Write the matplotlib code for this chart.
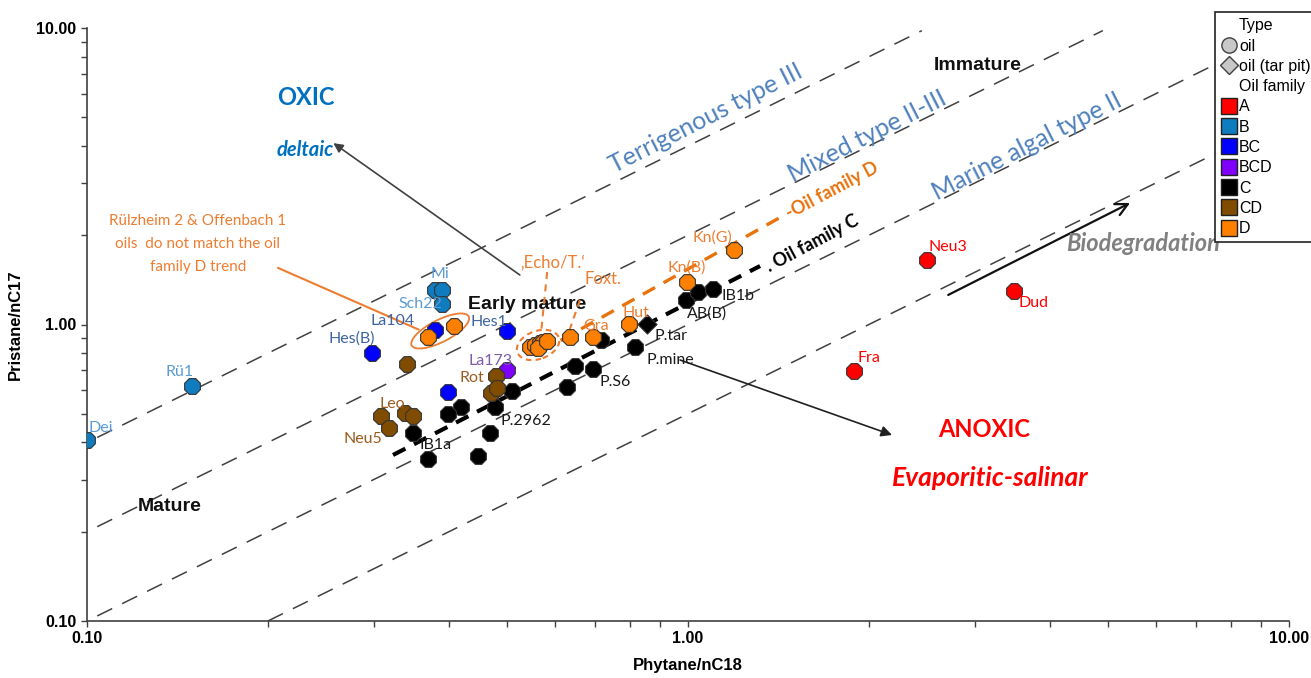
import matplotlib
matplotlib.use("Agg")
import matplotlib.pyplot as plt
import matplotlib.transforms as mtransforms
from matplotlib.patches import Ellipse
from matplotlib.lines import Line2D
from matplotlib.ticker import FixedLocator, FuncFormatter, LogLocator, NullFormatter

plt.rcParams['lines.scale_dashes'] = False

# ---- Phytane/nC18 (x) and Pristane/nC17 (y) by oil family ----
families = ["A", "B", "BC", "BCD", "C", "CD", "D"]
family_colors = ["#FF0000", "#0F7CC0", "#0000FF", "#8000FF", "#000000", "#7F4C00", "#FF8000"]

ph_A = [2.50, 3.49, 1.89]
pr_A = [1.65, 1.30, 0.697]
ph_B = [0.100, 0.1495, 0.379, 0.390, 0.390]
pr_B = [0.408, 0.620, 1.307, 1.307, 1.173]
ph_BC = [0.298, 0.379, 0.500, 0.399]
pr_BC = [0.801, 0.958, 0.951, 0.592]
ph_BCD = [0.500]
pr_BCD = [0.702]
ph_C = [0.717, 0.816, 0.992, 1.039, 1.101, 0.649, 0.695, 0.629, 0.509, 0.477,
        0.419, 0.399, 0.349, 0.468, 0.447, 0.369]
pr_C = [0.887, 0.840, 1.209, 1.287, 1.317, 0.724, 0.708, 0.615, 0.597, 0.527,
        0.527, 0.499, 0.431, 0.431, 0.360, 0.352]
ph_CD = [0.341, 0.479, 0.470, 0.481, 0.308, 0.318, 0.338, 0.349]
pr_CD = [0.736, 0.670, 0.587, 0.611, 0.491, 0.448, 0.503, 0.491]
ph_D = [0.369, 0.408, 0.546, 0.557, 0.567, 0.574, 0.563, 0.583, 0.636, 0.695,
        0.798, 0.996, 1.193]
pr_D = [0.908, 0.988, 0.840, 0.853, 0.866, 0.873, 0.833, 0.880, 0.908, 0.908,
        1.004, 1.391, 1.784]

# tar pit oil (family C)
ph_tar_C = [0.855]
pr_tar_C = [1.004]

oil_ph = [ph_A, ph_B, ph_BC, ph_BCD, ph_C, ph_CD, ph_D]
oil_pr = [pr_A, pr_B, pr_BC, pr_BCD, pr_C, pr_CD, pr_D]

# sample names: (text, family, index in family, dx px, dy px, colour)
sample_labels = [
    ("Dei", "B", 0, 14, 12, "#5B9BD5"),
    ("Rü1", "B", 1, -12, 14, "#5B9BD5"),
    ("Mi", "B", 2, 5, 16, "#5B9BD5"),
    ("Sch22", "B", 4, -22, 0, "#5B9BD5"),
    ("Hes(B)", "BC", 0, -20, 15, "#3D64A0"),
    ("La104", "BC", 1, -42, 9, "#3D64A0"),
    ("Hes1", "BC", 2, -18, 9, "#3D64A0"),
    ("La173", "BCD", 0, -17, 9, "#7B5EA7"),
    ("Rot", "CD", 1, -24, -2, "#9A5B1E"),
    ("Leo", "CD", 4, 12, 12, "#9A5B1E"),
    ("Neu5", "CD", 5, -26, -11, "#9A5B1E"),
    ("IB1a", "C", 12, 22, -12, "#1A1A1A"),
    ("P.2962", "C", 9, 31, -14, "#1A1A1A"),
    ("P.S6", "C", 6, 22, -13, "#1A1A1A"),
    ("P.mine", "C", 1, 35, -13, "#1A1A1A"),
    ("P.tar", "tar", 0, 24, -12, "#1A1A1A"),
    ("AB(B)", "C", 2, 21, -13, "#1A1A1A"),
    ("IB1b", "C", 4, 25, -7, "#1A1A1A"),
    ("Gra", "D", 9, 3, 11, "#ED7D31"),
    ("Hut", "D", 10, 7, 11, "#ED7D31"),
    ("Kn(B)", "D", 11, 0, 14, "#ED7D31"),
    ("Kn(G)", "D", 12, -22, 12, "#ED7D31"),
    ("Neu3", "A", 0, 21, 13, "#FF0000"),
    ("Dud", "A", 1, 19, -12, "#FF0000"),
    ("Fra", "A", 2, 15, 13, "#FF0000"),
]

# Pr/nC17 : Ph/nC18 ratio reference lines
ratio_lines = [4.0, 2.0, 1.0, 0.5]

tick_values = [0.1, 1.0, 10.0]

SANS = ["Lato", "DejaVu Sans"]
ARIAL = ["Liberation Sans", "DejaVu Sans"]
NARROW = ["Liberation Sans Narrow", "Liberation Sans", "DejaVu Sans"]

fig = plt.figure(figsize=(13.11, 6.78), dpi=100)
ax = fig.add_axes([87 / 1311, 57 / 678, 1202 / 1311, 593 / 678])
ax.set_xscale("log")
ax.set_yscale("log")
ax.set_xlim(0.1, 10)
ax.set_ylim(0.1, 10)

for s in ("top", "right"):
    ax.spines[s].set_visible(False)
for s in ("left", "bottom"):
    ax.spines[s].set_color("#404040")
    ax.spines[s].set_linewidth(1.2)

for axis in (ax.xaxis, ax.yaxis):
    axis.set_major_locator(FixedLocator(tick_values))
    axis.set_major_formatter(FuncFormatter(lambda v, p: f"{v:.2f}"))
    axis.set_minor_locator(LogLocator(base=10, subs=range(2, 10)))
    axis.set_minor_formatter(NullFormatter())
ax.tick_params(which="both", direction="out", length=4, width=1, color="#404040")
for lab in ax.get_xticklabels() + ax.get_yticklabels():
    lab.set_fontfamily(NARROW)
    lab.set_fontweight("bold")
    lab.set_fontsize(11.5)

ax.set_xlabel("Phytane/nC18", fontsize=12, fontweight="bold", family=ARIAL, labelpad=8)
ax.set_ylabel("Pristane/nC17", fontsize=12, fontweight="bold", family=ARIAL, labelpad=10)

# ratio lines
for k in ratio_lines:
    x0 = max(0.104, 0.1 / k)
    x1 = min(10.0, 9.8 / k)
    ax.plot([x0, x1], [k * x0, k * x1], color="#404040", lw=1.1,
            dashes=(12, 8), zorder=1)

# family trends
ax.plot([0.323, 1.318], [0.363, 1.575], color="black", lw=3, dashes=(10, 7), zorder=2)
ax.plot([0.567, 1.42], [0.808, 2.29], color="#E8720C", lw=2.4, dashes=(10, 7), zorder=2)

# samples
for fam, col, xs, ys in zip(families, family_colors, oil_ph, oil_pr):
    ax.scatter(xs, ys, marker="8", s=150, color=col, edgecolors="#333333",
               linewidths=0.8, zorder=5)
ax.scatter(ph_tar_C, pr_tar_C, marker="D", s=95, color="#000000",
           edgecolors="#333333", linewidths=0.8, zorder=5)

lookup = {f: (xs, ys) for f, xs, ys in zip(families, oil_ph, oil_pr)}
lookup["tar"] = (ph_tar_C, pr_tar_C)
for text, fam, i, dx, dy, col in sample_labels:
    xs, ys = lookup[fam]
    ax.annotate(text, (xs[i], ys[i]), xytext=(dx, dy), textcoords="offset pixels",
                ha="center", va="center", fontsize=11.5, color=col, family=SANS,
                zorder=6)

# ellipses drawn in screen space around sample groups
def screen_ellipse(xc, yc, w, h, ang, **kw):
    tr = fig.dpi_scale_trans + mtransforms.ScaledTranslation(xc, yc, ax.transData)
    e = Ellipse((0, 0), w / 100, h / 100, angle=ang, transform=tr, fill=False, **kw)
    ax.add_patch(e)

screen_ellipse(0.387, 0.951, 64, 22, 27, edgecolor="#ED7D31", lw=1.3, zorder=4)
screen_ellipse(0.563, 0.853, 44, 28, 20, edgecolor="#ED7D31", lw=1.5,
               linestyle=(0, (4, 3)), zorder=4)

# Echo / Foxt leaders
ax.plot([0.583, 0.569], [1.503, 0.922], color="#ED7D31", lw=1.5, dashes=(5, 4), zorder=4)
ax.plot([0.661, 0.631], [1.209, 0.922], color="#ED7D31", lw=1.5, dashes=(5, 4), zorder=4)
ax.text(0.596, 1.612, "‚Echo/T.‘", fontsize=12, color="#ED7D31", family=SANS,
        ha="center", va="center")
ax.text(0.722, 1.424, "Foxt.", fontsize=12, color="#ED7D31", family=SANS,
        ha="center", va="center")

# note on the Rülzheim / Offenbach oils
ax.text(0.153, 1.869, "Rülzheim 2 & Offenbach 1\noils  do not match the oil\nfamily D trend",
        fontsize=11, color="#ED7D31", family=SANS, ha="center", va="center",
        linespacing=1.8)
ax.plot([0.208, 0.356], [1.551, 0.962], color="#ED7D31", lw=1.5, zorder=3)

# arrows
ax.annotate("", xy=(0.257, 4.09), xytext=(0.525, 1.469),
            arrowprops=dict(arrowstyle="-|>", color="#404040", lw=1.2,
                            mutation_scale=14, shrinkA=0, shrinkB=0))
ax.annotate("", xy=(2.185, 0.424), xytext=(0.970, 0.759),
            arrowprops=dict(arrowstyle="-|>", color="#202020", lw=1.2,
                            mutation_scale=16, shrinkA=0, shrinkB=0))
ax.annotate("", xy=(5.44, 2.57), xytext=(2.71, 1.258),
            arrowprops=dict(arrowstyle="->", color="#111111", lw=1.6,
                            mutation_scale=22, shrinkA=0, shrinkB=0))

# field annotations
ax.text(0.231, 5.85, "OXIC", fontsize=17, fontweight="bold", color="#0070C0",
        family=SANS, ha="center", va="center")
ax.text(0.231, 3.88, "deltaic", fontsize=14.5, fontweight="bold", style="italic",
        color="#0070C0", family=SANS, ha="center", va="center")
ax.text(3.11, 0.441, "ANOXIC", fontsize=17, fontweight="bold", color="#FF0000",
        family=SANS, ha="center", va="center")
ax.text(3.19, 0.304, "Evaporitic-salinar", fontsize=19, fontweight="bold",
        style="italic", color="#FF0000", family=SANS, ha="center", va="center")
ax.text(5.71, 1.869, "Biodegradation", fontsize=17, fontweight="bold", style="italic",
        color="#808080", family=SANS, ha="center", va="center")
ax.text(0.540, 1.164, "Early mature", fontsize=14, fontweight="bold", color="#111111",
        family=ARIAL, ha="center", va="center")
ax.text(3.03, 7.45, "Immature", fontsize=14, fontweight="bold", color="#111111",
        family=ARIAL, ha="center", va="center")
ax.text(0.1374, 0.244, "Mature", fontsize=14, fontweight="bold", color="#111111",
        family=ARIAL, ha="center", va="center")

kero = dict(fontsize=18, color="#4F81BD", family=SANS, ha="center", va="center",
            rotation=27, rotation_mode="anchor")
ax.text(1.071, 4.97, "Terrigenous type III", **kero)
ax.text(1.985, 4.32, "Mixed type II-III", **kero)
ax.text(3.66, 4.00, "Marine algal type II", **kero)

ax.text(1.608, 1.883, ". Oil family C", fontsize=13, fontweight="bold", color="black",
        family=SANS, ha="center", va="center", rotation=28, rotation_mode="anchor")
ax.text(1.736, 2.84, "-Oil family D", fontsize=13, fontweight="bold", color="#E8720C",
        family=SANS, ha="center", va="center", rotation=28, rotation_mode="anchor")

# legend
blank = Line2D([], [], ls="none")
handles = [blank,
           Line2D([], [], marker="o", ls="none", mfc="#C8C8C8", mec="#404040", ms=11),
           Line2D([], [], marker="D", ls="none", mfc="#C8C8C8", mec="#404040", ms=9),
           blank]
handles += [Line2D([], [], marker="s", ls="none", mfc=c, mec="#202020", ms=12)
            for c in family_colors]
labels = ["Type", "oil", "oil (tar pit)", "Oil family"] + families
leg = fig.legend(handles, labels, loc="upper left", bbox_to_anchor=(1215 / 1311, 1 - 12 / 678),
                 frameon=True, fancybox=False, edgecolor="#222222", framealpha=1,
                 prop={"family": ARIAL, "size": 11.5}, handlelength=1.0,
                 handletextpad=0.1, labelspacing=0.33, borderpad=0.4, borderaxespad=0)
leg.get_frame().set_linewidth(1.2)

fig.savefig("out.png", dpi=100, facecolor="white")
